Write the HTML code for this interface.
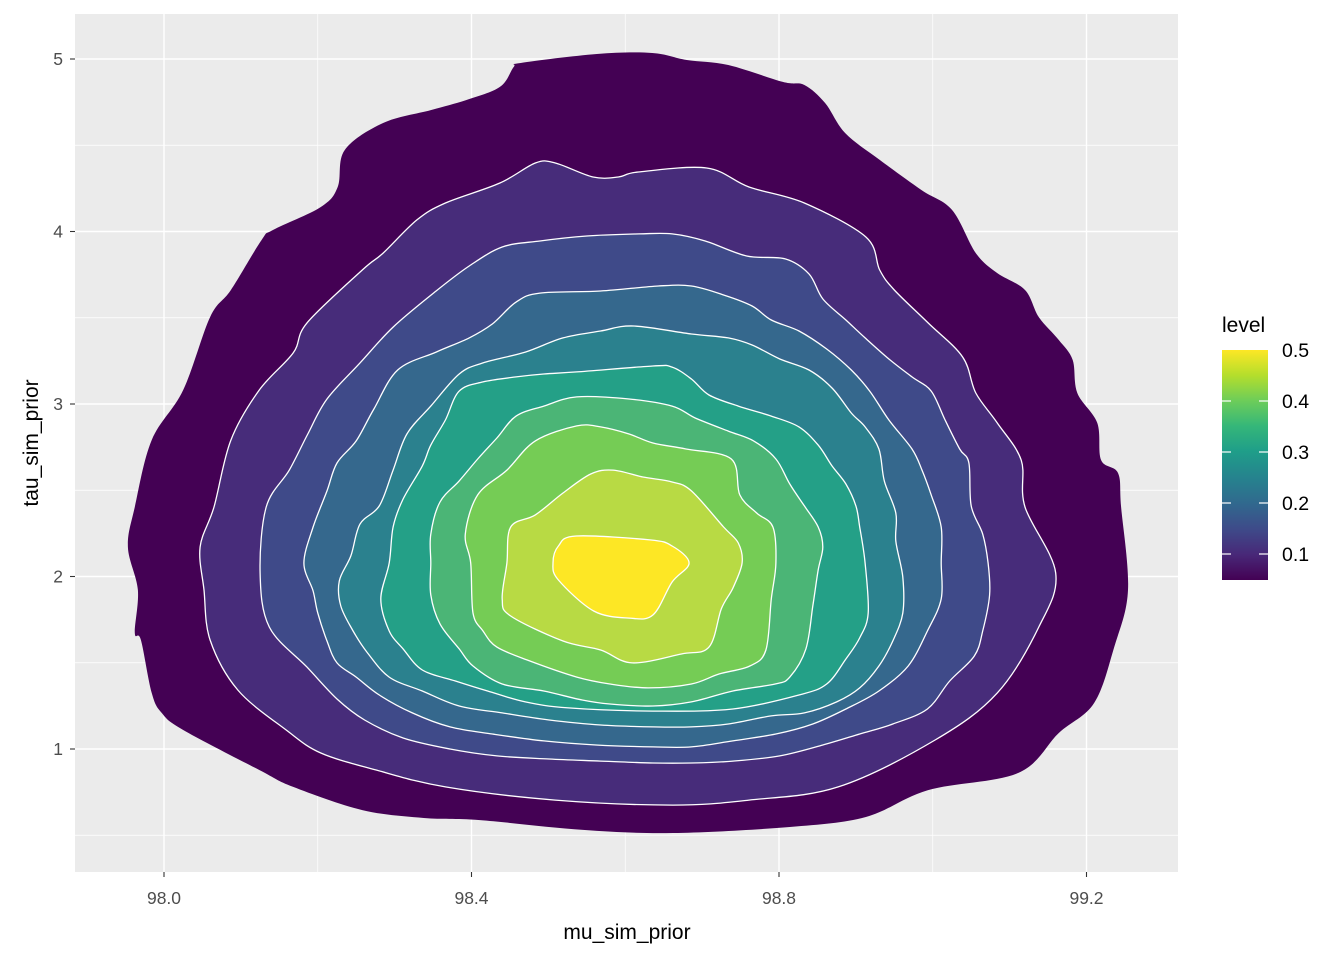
<!DOCTYPE html>
<html><head><meta charset="utf-8">
<style>
html,body{margin:0;padding:0;background:#fff;}
svg{display:block;}
text{font-family:"Liberation Sans",Arial,sans-serif;}
</style></head>
<body>
<svg id="chart" width="1344" height="960" viewBox="0 0 1344 960" xmlns="http://www.w3.org/2000/svg">
<defs>
<linearGradient id="vir" x1="0" y1="1" x2="0" y2="0">
<stop offset="0" stop-color="#440154"/><stop offset="0.11" stop-color="#482878"/>
<stop offset="0.22" stop-color="#3E4A89"/><stop offset="0.33" stop-color="#31688E"/>
<stop offset="0.44" stop-color="#26828E"/><stop offset="0.56" stop-color="#1F9E89"/>
<stop offset="0.67" stop-color="#35B779"/><stop offset="0.78" stop-color="#6DCD59"/>
<stop offset="0.89" stop-color="#B4DE2C"/><stop offset="1" stop-color="#FDE725"/>
</linearGradient>
</defs>
<rect x="75" y="14" width="1103" height="858" fill="#EBEBEB"/>
<g id="grid"></g>
<g id="bands"></g>
<g id="axes"></g>
<text x="627" y="939" text-anchor="middle" font-size="21" fill="#000">mu_sim_prior</text>
<text transform="translate(38,443) rotate(-90)" text-anchor="middle" font-size="21" fill="#000">tau_sim_prior</text>
<g>
<text x="1222" y="332" font-size="21" fill="#000">level</text>
<rect x="1222" y="350" width="46" height="230" fill="url(#vir)"/>
<g id="legendTicks"></g>
</g>
</svg>
<script>
const xTicks = [98.0, 98.4, 98.8, 99.2];
const xTickLabels = ["98.0", "98.4", "98.8", "99.2"];
const xMinor = [98.2, 98.6, 99.0];
const yTicks = [1, 2, 3, 4, 5];
const yTickLabels = ["1", "2", "3", "4", "5"];
const yMinor = [0.5, 1.5, 2.5, 3.5, 4.5];
const legendTicks = [0.1, 0.2, 0.3, 0.4, 0.5];
const legendLabels = ["0.1", "0.2", "0.3", "0.4", "0.5"];
const bandColors = ["#440154","#472C7A","#3F4A89","#35688D","#2B818E","#24A087","#4BB576","#75CC55","#B8DA44","#FDE725"];

const contour0 = [[98.464,4.977],[98.563,5.029],[98.635,5.035],[98.680,4.994],[98.734,4.965],[98.805,4.867],[98.833,4.849],[98.860,4.745],[98.886,4.571],[98.931,4.415],[98.985,4.241],[99.025,4.125],[99.056,3.875],[99.084,3.759],[99.120,3.661],[99.138,3.504],[99.164,3.371],[99.182,3.255],[99.188,3.064],[99.214,2.890],[99.219,2.675],[99.241,2.600],[99.245,2.403],[99.254,1.922],[99.236,1.591],[99.210,1.267],[99.164,1.093],[99.111,0.861],[98.994,0.762],[98.913,0.606],[98.814,0.548],[98.662,0.513],[98.545,0.531],[98.411,0.588],[98.338,0.600],[98.258,0.646],[98.168,0.780],[98.124,0.878],[98.025,1.110],[97.997,1.209],[97.984,1.325],[97.970,1.632],[97.962,1.673],[97.966,1.922],[97.953,2.171],[97.962,2.403],[97.984,2.791],[98.025,3.081],[98.060,3.504],[98.087,3.661],[98.127,3.951],[98.142,4.009],[98.204,4.142],[98.226,4.258],[98.235,4.472],[98.285,4.629],[98.347,4.704],[98.393,4.762],[98.437,4.838],[98.455,4.954]];
const contour1 = [[98.483,4.397],[98.509,4.397],[98.558,4.316],[98.591,4.316],[98.617,4.345],[98.706,4.368],[98.761,4.258],[98.833,4.165],[98.913,3.968],[98.931,3.777],[98.950,3.661],[98.994,3.470],[99.039,3.272],[99.056,3.064],[99.084,2.890],[99.115,2.675],[99.120,2.403],[99.160,2.020],[99.138,1.707],[99.084,1.325],[99.003,1.052],[98.877,0.780],[98.761,0.704],[98.662,0.675],[98.509,0.704],[98.366,0.780],[98.276,0.878],[98.204,0.977],[98.159,1.110],[98.096,1.342],[98.060,1.632],[98.052,1.922],[98.047,2.171],[98.065,2.403],[98.087,2.791],[98.124,3.081],[98.168,3.296],[98.186,3.470],[98.258,3.777],[98.285,3.875],[98.329,4.067],[98.366,4.165],[98.437,4.281]];
const contour2 = [[98.440,3.910],[98.489,3.945],[98.550,3.974],[98.618,3.986],[98.661,3.986],[98.704,3.945],[98.758,3.858],[98.808,3.841],[98.839,3.754],[98.857,3.609],[98.887,3.487],[98.912,3.383],[98.943,3.261],[98.973,3.157],[98.998,3.075],[99.016,2.907],[99.035,2.739],[99.047,2.658],[99.050,2.409],[99.065,2.246],[99.072,2.078],[99.074,1.893],[99.065,1.684],[99.054,1.539],[99.022,1.394],[98.993,1.232],[98.948,1.145],[98.905,1.087],[98.857,1.023],[98.801,0.960],[98.740,0.930],[98.686,0.919],[98.636,0.919],[98.568,0.930],[98.501,0.942],[98.433,0.960],[98.372,1.000],[98.311,1.064],[98.261,1.168],[98.225,1.290],[98.186,1.475],[98.137,1.707],[98.125,2.020],[98.133,2.403],[98.163,2.617],[98.187,2.826],[98.212,3.029],[98.255,3.238],[98.298,3.446],[98.354,3.655],[98.397,3.800]];
const contour3 = [[98.489,3.643],[98.568,3.655],[98.643,3.684],[98.686,3.684],[98.728,3.632],[98.765,3.568],[98.790,3.487],[98.826,3.423],[98.862,3.319],[98.894,3.197],[98.918,3.075],[98.943,2.907],[98.973,2.739],[98.986,2.617],[98.998,2.473],[99.011,2.287],[99.011,2.078],[99.011,1.870],[98.993,1.684],[98.968,1.481],[98.930,1.336],[98.887,1.232],[98.844,1.145],[98.796,1.087],[98.740,1.047],[98.686,1.012],[98.636,1.012],[98.562,1.023],[98.494,1.047],[98.427,1.087],[98.372,1.128],[98.323,1.209],[98.280,1.313],[98.250,1.417],[98.225,1.499],[98.212,1.626],[98.200,1.788],[98.194,1.916],[98.182,2.078],[98.194,2.287],[98.212,2.496],[98.225,2.658],[98.250,2.786],[98.273,2.971],[98.304,3.197],[98.354,3.301],[98.397,3.383],[98.427,3.464],[98.458,3.591]];
const contour4 = [[98.611,3.452],[98.686,3.406],[98.734,3.383],[98.765,3.342],[98.801,3.261],[98.839,3.197],[98.869,3.093],[98.894,2.948],[98.912,2.867],[98.930,2.739],[98.937,2.554],[98.952,2.368],[98.952,2.206],[98.961,1.997],[98.961,1.788],[98.948,1.626],[98.930,1.481],[98.905,1.354],[98.875,1.273],[98.833,1.209],[98.790,1.192],[98.734,1.145],[98.686,1.128],[98.636,1.128],[98.568,1.139],[98.501,1.168],[98.440,1.209],[98.384,1.249],[98.336,1.336],[98.293,1.417],[98.264,1.562],[98.246,1.684],[98.230,1.829],[98.228,1.974],[98.243,2.119],[98.255,2.304],[98.280,2.409],[98.298,2.617],[98.316,2.826],[98.347,2.988],[98.384,3.174],[98.415,3.238],[98.470,3.301],[98.519,3.383],[98.568,3.423]];
const contour5 = [[98.537,3.186],[98.636,3.220],[98.661,3.214],[98.686,3.145],[98.709,3.052],[98.747,2.988],[98.790,2.930],[98.826,2.867],[98.851,2.762],[98.869,2.641],[98.887,2.536],[98.900,2.409],[98.905,2.287],[98.912,2.078],[98.916,1.788],[98.905,1.644],[98.887,1.522],[98.862,1.377],[98.826,1.313],[98.740,1.232],[98.636,1.220],[98.526,1.238],[98.470,1.273],[98.421,1.336],[98.379,1.394],[98.336,1.458],[98.311,1.580],[98.293,1.684],[98.282,1.870],[98.293,2.078],[98.298,2.287],[98.311,2.449],[98.336,2.641],[98.347,2.762],[98.366,2.907],[98.384,3.075],[98.415,3.128],[98.458,3.157],[98.494,3.174]];
const contour6 = [[98.537,3.041],[98.605,3.029],[98.661,2.988],[98.691,2.919],[98.734,2.843],[98.767,2.786],[98.796,2.681],[98.814,2.536],[98.833,2.409],[98.851,2.287],[98.857,2.171],[98.851,2.038],[98.844,1.829],[98.835,1.580],[98.814,1.417],[98.795,1.377],[98.740,1.336],[98.686,1.273],[98.636,1.249],[98.580,1.261],[98.544,1.284],[98.494,1.336],[98.440,1.377],[98.402,1.481],[98.384,1.580],[98.359,1.725],[98.347,1.893],[98.347,2.078],[98.347,2.246],[98.359,2.432],[98.384,2.554],[98.408,2.681],[98.433,2.803],[98.458,2.930],[98.494,2.988]];
const contour7 = [[98.537,2.873],[98.568,2.867],[98.605,2.826],[98.636,2.774],[98.679,2.739],[98.738,2.681],[98.749,2.473],[98.771,2.368],[98.792,2.287],[98.796,2.078],[98.790,1.870],[98.783,1.574],[98.762,1.481],[98.722,1.435],[98.686,1.377],[98.630,1.354],[98.580,1.377],[98.537,1.417],[98.476,1.510],[98.433,1.591],[98.415,1.684],[98.402,1.788],[98.399,2.078],[98.392,2.246],[98.408,2.473],[98.446,2.617],[98.483,2.786]];
const contour8 = [[98.584,2.617],[98.623,2.577],[98.661,2.548],[98.686,2.496],[98.728,2.287],[98.747,2.194],[98.752,2.078],[98.740,1.933],[98.725,1.812],[98.709,1.591],[98.673,1.551],[98.609,1.499],[98.568,1.574],[98.519,1.626],[98.451,1.771],[98.440,1.870],[98.446,2.078],[98.451,2.287],[98.483,2.357],[98.519,2.484],[98.555,2.594]];
const contour9 = [[98.536,2.235],[98.632,2.212],[98.661,2.177],[98.683,2.078],[98.661,1.968],[98.636,1.777],[98.605,1.759],[98.559,1.800],[98.513,1.980],[98.506,2.078],[98.513,2.177]];
const contours = [contour0, contour1, contour2, contour3, contour4, contour5, contour6, contour7, contour8, contour9];

const NS = "http://www.w3.org/2000/svg";
function xScale(v){ return 164 + (v - 98.0) * 768.75; }
function yScale(v){ return 59 + (5 - v) * 172.5; }
function lgScale(v){ return 350 + (0.5 - v) * 510; }
function mk(tag, attrs, parent){ const e = document.createElementNS(NS, tag); for (const k in attrs) e.setAttribute(k, attrs[k]); parent.appendChild(e); return e; }
function smoothPath(pts){
  const n = pts.length, t = 0.5 / 3;
  let d = 'M' + pts[0][0].toFixed(1) + ',' + pts[0][1].toFixed(1);
  for (let i = 0; i < n; i++) {
    const p0 = pts[(i - 1 + n) % n], p1 = pts[i], p2 = pts[(i + 1) % n], p3 = pts[(i + 2) % n];
    const c1x = p1[0] + (p2[0] - p0[0]) * t, c1y = p1[1] + (p2[1] - p0[1]) * t;
    const c2x = p2[0] - (p3[0] - p1[0]) * t, c2y = p2[1] - (p3[1] - p1[1]) * t;
    d += 'C' + c1x.toFixed(1) + ',' + c1y.toFixed(1) + ' ' + c2x.toFixed(1) + ',' + c2y.toFixed(1) + ' ' + p2[0].toFixed(1) + ',' + p2[1].toFixed(1);
  }
  return d + 'Z';
}

const grid = document.getElementById('grid');
xMinor.forEach(v => {
  const l = mk('line', {x1: xScale(v), x2: xScale(v), y1: 14, y2: 872, stroke: '#fff', 'stroke-width': 0.7}, grid);
  
  
});
yMinor.forEach(v => {
  const l = mk('line', {x1: 75, x2: 1178, y1: yScale(v), y2: yScale(v), stroke: '#fff', 'stroke-width': 0.7}, grid);
  
  
});
xTicks.forEach(v => {
  const l = mk('line', {x1: xScale(v), x2: xScale(v), y1: 14, y2: 872, stroke: '#fff', 'stroke-width': 1.4}, grid);
  
  
});
yTicks.forEach(v => {
  const l = mk('line', {x1: 75, x2: 1178, y1: yScale(v), y2: yScale(v), stroke: '#fff', 'stroke-width': 1.4}, grid);
  
  
});

const bands = document.getElementById('bands');
contours.forEach((c, i) => {
  const pts = c.map(p => [xScale(p[0]), yScale(p[1])]);
  const p = mk('path', {d: smoothPath(pts), fill: bandColors[i], stroke: i === 0 ? 'none' : '#fff', 'stroke-width': 1.3, 'stroke-linejoin': 'round'}, bands);
  
  
});

const axes = document.getElementById('axes');
xTicks.forEach((v, i) => {
  const t = mk('line', {x1: xScale(v), x2: xScale(v), y1: 872, y2: 877, stroke: '#333', 'stroke-width': 1.1}, axes);
  
  
  const lb = mk('text', {x: xScale(v), y: 904, 'text-anchor': 'middle', 'font-size': 17.5, fill: '#4D4D4D'}, axes);
  lb.textContent = xTickLabels[i];
  
  
});
yTicks.forEach((v, i) => {
  const t = mk('line', {x1: 70, x2: 75, y1: yScale(v), y2: yScale(v), stroke: '#333', 'stroke-width': 1.1}, axes);
  
  
  const lb = mk('text', {x: 63, y: yScale(v) + 6, 'text-anchor': 'end', 'font-size': 17.5, fill: '#4D4D4D'}, axes);
  lb.textContent = yTickLabels[i];
  
  
});

const lg = document.getElementById('legendTicks');
legendTicks.forEach((v, i) => {
  const y = lgScale(v);
  if (v < 0.5) {
    const a = mk('line', {x1: 1222, x2: 1231, y1: y, y2: y, stroke: '#fff', 'stroke-width': 1.2}, lg);
    
    
    const b = mk('line', {x1: 1259, x2: 1268, y1: y, y2: y, stroke: '#fff', 'stroke-width': 1.2}, lg);
    
    
  }
  const t = mk('text', {x: 1282, y: y + 7, 'font-size': 19.5, fill: '#000'}, lg);
  t.textContent = legendLabels[i];
  
  
});
</script>
</body></html>
